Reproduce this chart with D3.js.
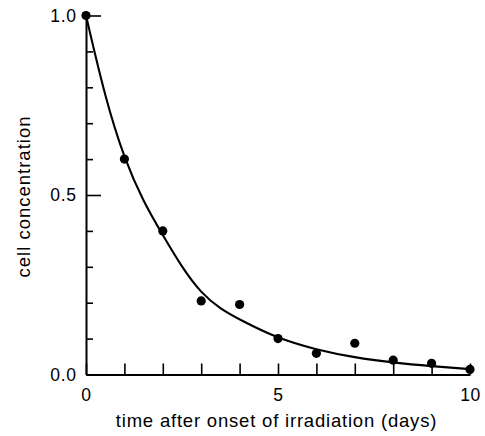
<!DOCTYPE html>
<html>
<head>
<meta charset="utf-8">
<script src="https://cdn.jsdelivr.net/npm/d3@7"></script>
<style>
  html, body { margin: 0; padding: 0; background: #fff; }
  svg { display: block; }
  text { font-family: "Liberation Sans", Arial, Helvetica, sans-serif; fill: #000; }
</style>
</head>
<body>
<script>
// Measured cell concentration on each day after irradiation began
const days = [0, 1, 2, 3, 4, 5, 6, 7, 8, 9, 10];
const measured = [1.0, 0.6, 0.4, 0.205, 0.195, 0.1, 0.059, 0.087, 0.04, 0.031, 0.014];

// Smooth decay curve drawn through the data
const fitDays = [0, 0.5, 1, 1.5, 2, 2.5, 3, 3.5, 4, 5, 6, 7, 8, 9, 10];
const fitValues = [1.0, 0.77, 0.6, 0.48, 0.388, 0.298, 0.226, 0.183, 0.153, 0.1, 0.069, 0.047, 0.033, 0.023, 0.015];

// Axis ticks
const xTicks = [0, 1, 2, 3, 4, 5, 6, 7, 8, 9, 10];
const xLabels = [0, 5, 10];
const yMinorTicks = [0.1, 0.2, 0.3, 0.4, 0.6, 0.7, 0.8, 0.9];
const yMajorTicks = [0, 0.5, 1.0];

const xTitle = "time after onset of irradiation (days)";
const yTitle = "cell concentration";

const W = 485, H = 436;
const svg = d3.select("body").append("svg").attr("width", W).attr("height", H);

const x = d3.scaleLinear().domain([0, 10]).range([86, 470]);
const y = d3.scaleLinear().domain([0, 1]).range([374.5, 15.5]);

function styleAxis(g) {
  g.selectAll("path.domain").attr("stroke", "#000").attr("stroke-width", 2);
  g.selectAll(".tick line").attr("stroke", "#000").attr("stroke-width", 1.6);
  g.selectAll(".tick text")
    .style("font-family", '"Liberation Sans", Arial, sans-serif')
    .style("font-size", "17.5px")
    .style("letter-spacing", "0.6px")
    .attr("fill", "#000");
}

// x axis: ticks every day pointing into the plot, labels at 0, 5, 10
svg.append("g")
  .attr("transform", `translate(0,${y(0)})`)
  .call(d3.axisBottom(x)
    .tickValues(xTicks)
    .tickSizeInner(-11)
    .tickSizeOuter(0)
    .tickPadding(14)
    .tickFormat(d => xLabels.includes(d) ? d3.format("d")(d) : ""))
  .call(styleAxis);

// y axis: short minor ticks
svg.append("g")
  .attr("transform", `translate(${x(0)},0)`)
  .call(d3.axisLeft(y)
    .tickValues(yMinorTicks)
    .tickSizeInner(-7)
    .tickSizeOuter(0)
    .tickFormat(""))
  .call(styleAxis)
  .call(g => g.select("path.domain").remove());

// y axis: long major ticks with labels
svg.append("g")
  .attr("transform", `translate(${x(0)},0)`)
  .call(d3.axisLeft(y)
    .tickValues(yMajorTicks)
    .tickSizeInner(-15)
    .tickSizeOuter(0)
    .tickPadding(9.5)
    .tickFormat(d3.format(".1f")))
  .call(styleAxis);

// Fitted decay curve
const line = d3.line()
  .x((d, i) => x(fitDays[i]))
  .y(d => y(d))
  .curve(d3.curveBasis);

svg.append("path")
  .datum(fitValues)
  .attr("d", line)
  .attr("fill", "none")
  .attr("stroke", "#000")
  .attr("stroke-width", 2.1);

// Measured points
svg.append("g")
  .selectAll("circle")
  .data(measured)
  .join("circle")
  .attr("cx", (d, i) => x(days[i]))
  .attr("cy", d => y(d))
  .attr("r", 4.6)
  .attr("fill", "#000");

// Axis titles
svg.append("text")
  .attr("x", 276.5)
  .attr("y", 427)
  .attr("text-anchor", "middle")
  .style("font-size", "18.5px")
  .style("letter-spacing", "0.8px")
  .text(xTitle);

svg.append("text")
  .attr("transform", "translate(29.5,196.5) rotate(-90)")
  .attr("text-anchor", "middle")
  .style("font-size", "18.5px")
  .style("letter-spacing", "1px")
  .text(yTitle);
</script>
</body>
</html>
